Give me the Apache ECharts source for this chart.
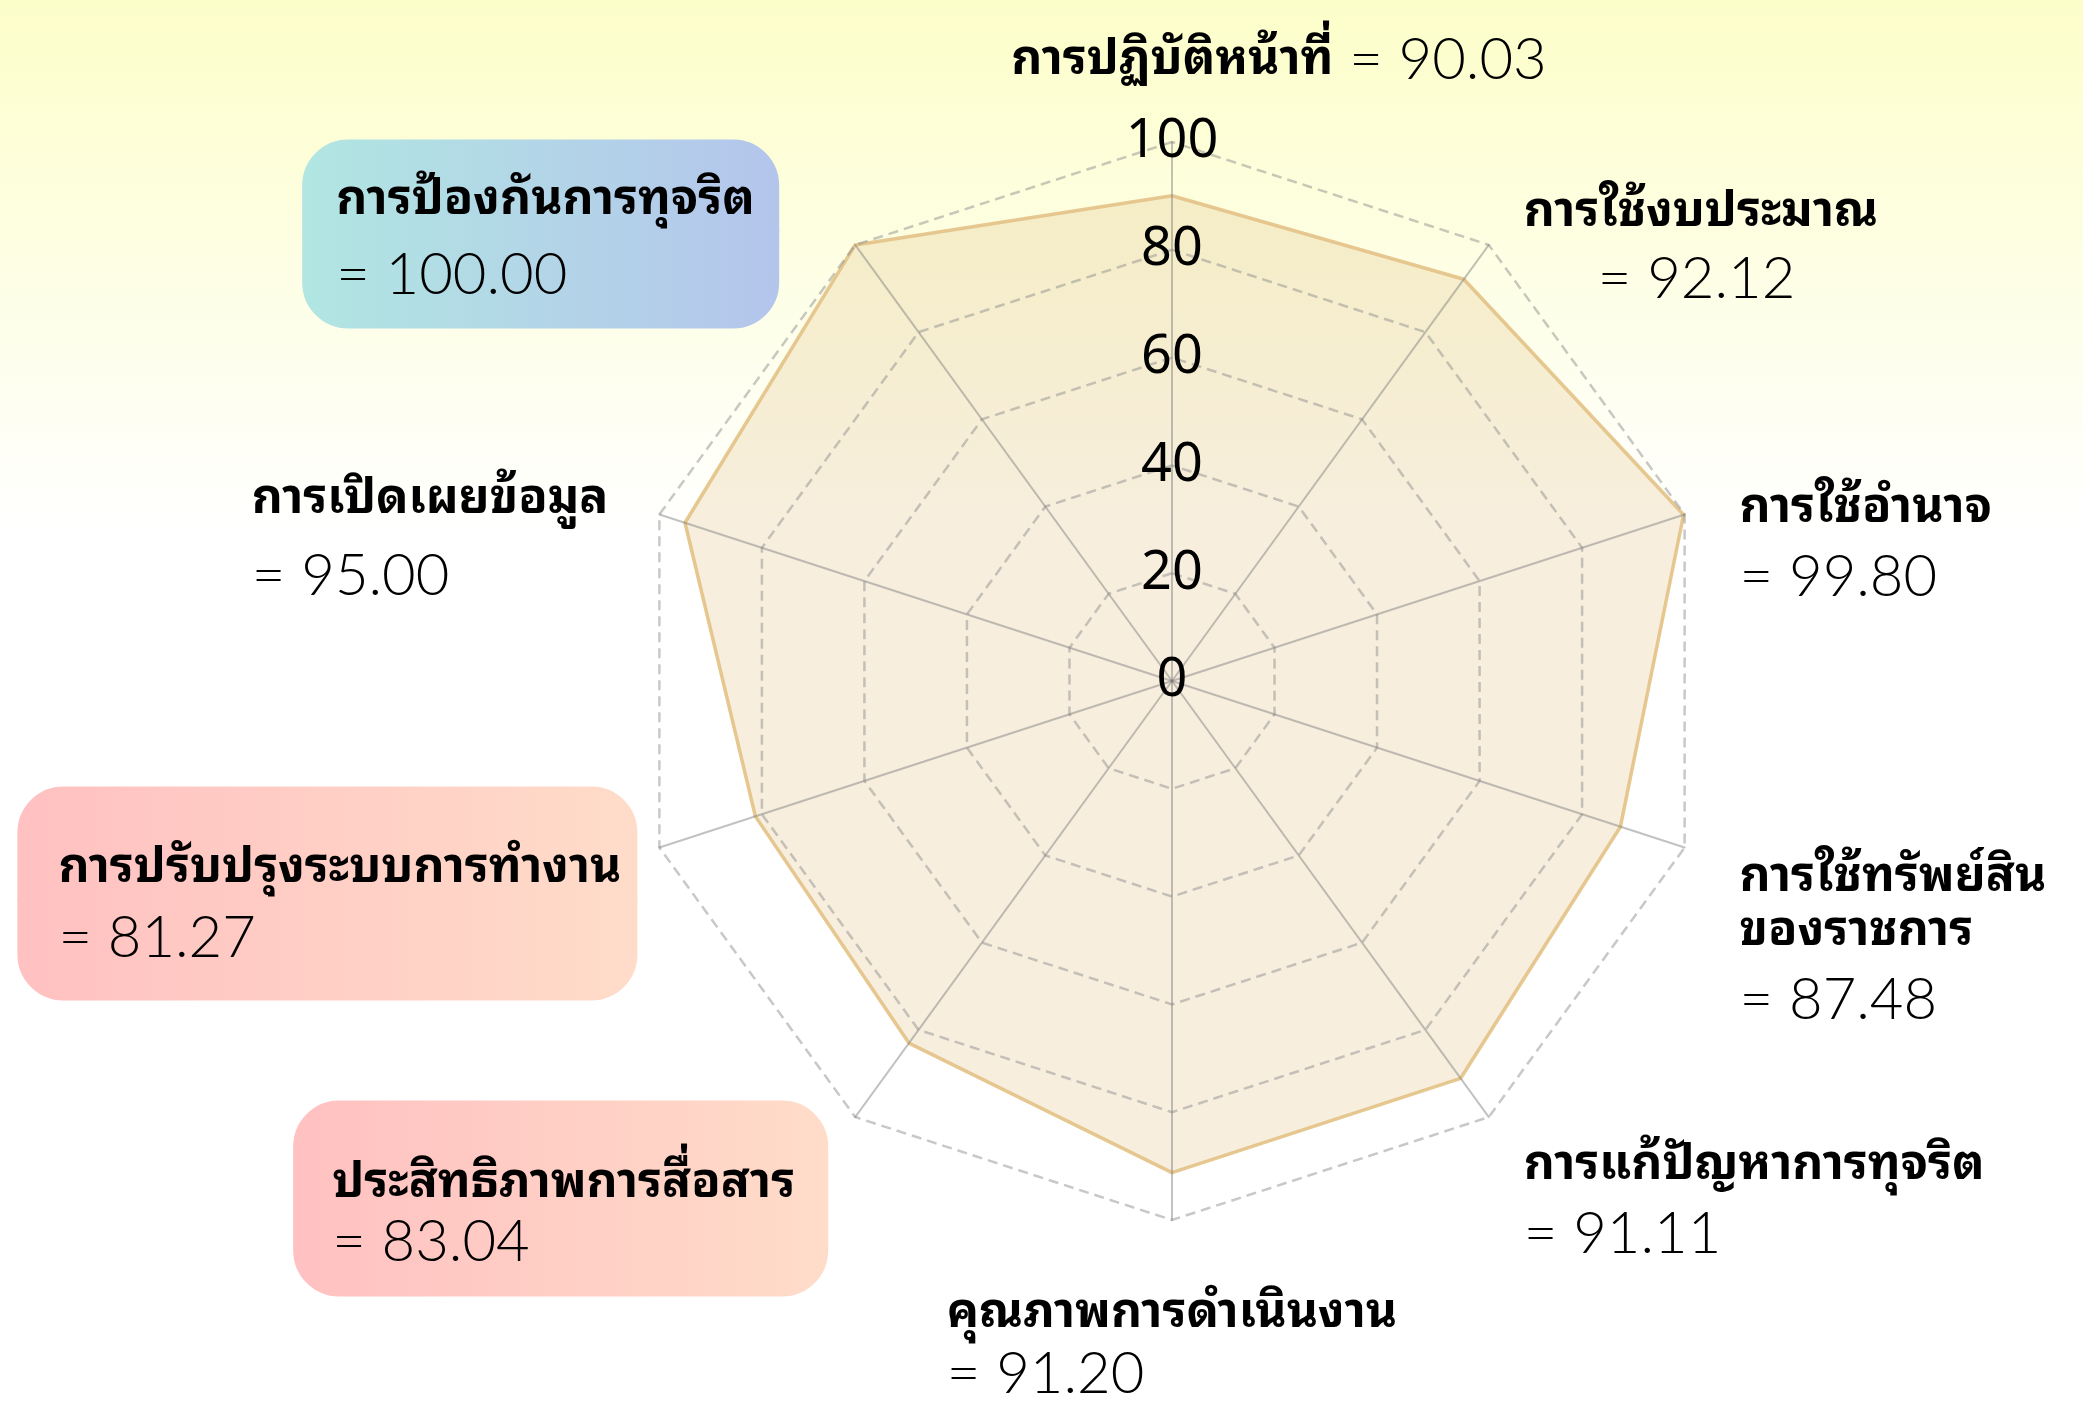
<!DOCTYPE html>
<html>
<head>
<meta charset="utf-8">
<script src="https://cdn.jsdelivr.net/npm/echarts@6/dist/echarts.min.js"></script>
<style>
html,body{margin:0;padding:0;background:#fff;}
#main{width:2083px;height:1401px;}
</style>
</head>
<body>
<div id="main"></div>
<script>
// ---------- data ----------
const categories = [
  'การปฏิบัติหน้าที่',
  'การใช้งบประมาณ',
  'การใช้อำนาจ',
  'การใช้ทรัพย์สิน\nของราชการ',
  'การแก้ปัญหาการทุจริต',
  'คุณภาพการดำเนินงาน',
  'ประสิทธิภาพการสื่อสาร',
  'การปรับปรุงระบบการทำงาน',
  'การเปิดเผยข้อมูล',
  'การป้องกันการทุจริต'
];
const scores = [90.03, 92.12, 99.80, 87.48, 91.11, 91.20, 83.04, 81.27, 95.00, 100.00];
const axisMin = 0;
const axisMax = 100;
const axisSplits = 5; // ticks 0,20,40,60,80,100

// ---------- styles ----------
const THAI = '"Noto Sans Thai Looped", Loma, Garuda, "Noto Sans Thai", Sarabun, "Noto Sans", sans-serif';
const NUM = 'Lato, "Noto Sans", sans-serif';

const labelLayout = [
  {align:'center', pad:[0,0,163,214]},
  {align:'left',   pad:[15,0,0,35], valueStyle:'vi'},
  {align:'left',   pad:[72,0,0,55]},
  {align:'left',   pad:[198,0,0,55]},
  {align:'left',   pad:[181,0,0,35]},
  {align:'center', pad:[255,0,0,0], valueStyle:'vb'},
  {align:'right',  pad:[163,29,0,0], box:'pink', w:457, px:37, top:[60,51], bot:[58,23]},
  {align:'right',  pad:[92,24,0,0],  box:'pink', w:538, px:39, top:[60,50], bot:[80,20]},
  {align:'right',  pad:[70,51,0,0], valueStyle:'vt'},
  {align:'right',  pad:[0,78,22,0],  box:'blue', w:409, px:32, top:[60,29], bot:[90,6]}
];

const grads = {
  blue: {type:'linear', x:0, y:0, x2:1, y2:0, colorStops:[{offset:0,color:'#b1e6e2'},{offset:1,color:'#b4c5ec'}]},
  pink: {type:'linear', x:0, y:0, x2:1, y2:0, colorStops:[{offset:0,color:'#ffc1c1'},{offset:1,color:'#ffdcc9'}]}
};

const nameBase = {fontFamily: THAI, fontWeight:'bold', fontSize:48, color:'#000', align:'left'};
const valBase = {fontFamily: NUM, fontWeight:300, fontSize:58, color:'#000', align:'left'};

const rich = {
  n: Object.assign({lineHeight:54}, nameBase),
  v: Object.assign({lineHeight:84}, valBase),
  vt: Object.assign({lineHeight:100}, valBase),
  vb: Object.assign({lineHeight:68}, valBase),
  vi: Object.assign({lineHeight:80, padding:[0,0,0,74]}, valBase)
};
labelLayout.forEach((L, i) => {
  if (!L.box) return;
  const r = 44;
  rich['b' + i + 'n'] = Object.assign({}, nameBase, {
    width: L.w, height: L.top[0], padding: [L.top[1], L.px, 0, L.px],
    backgroundColor: grads[L.box], borderColor: grads[L.box], borderWidth: 2,
    borderRadius: [r, r, 0, 0]
  });
  rich['b' + i + 'v'] = Object.assign({}, valBase, {
    width: L.w, height: L.bot[0], padding: [0, L.px, L.bot[1], L.px],
    backgroundColor: grads[L.box], borderColor: grads[L.box], borderWidth: 2,
    borderRadius: [0, 0, r, r]
  });
});

function labelText(i) {
  const L = labelLayout[i];
  const val = '= ' + scores[i].toFixed(2);
  if (L.box) {
    return '{b' + i + 'n|' + categories[i] + '}\n{b' + i + 'v|' + val + '}';
  }
  const nameLines = categories[i].split('\n').map(s => '{n|' + s + '}');
  if (i === 0) return nameLines.join('') + '{v| ' + val + '}';
  return nameLines.join('\n') + '\n{' + (L.valueStyle || 'v') + '|' + val + '}';
}

// ECharts places indicators counter-clockwise; the reference runs clockwise.
const order = categories.map((_, k) => (categories.length - k) % categories.length);

const indicators = order.map((i, k) => {
  const L = labelLayout[i];
  const ind = {
    name: categories[i],
    min: axisMin,
    max: axisMax,
    nameGap: 0,
    nameTextStyle: {align: L.align, verticalAlign: 'middle', padding: L.pad, rich: rich, color:'#000'}
  };
  if (k === 0) {
    ind.axisLabel = {show:true, margin:0, align:'center', verticalAlign:'middle',
      fontFamily:'"Noto Sans", sans-serif', fontSize:54, color:'#000'};
  }
  return ind;
});
const seriesValues = order.map(i => scores[i]);

const chart = echarts.init(document.getElementById('main'), null, {renderer:'canvas'});
chart.setOption({
  animation: false,
  backgroundColor: {type:'linear', x:0, y:0, x2:0, y2:1,
    colorStops:[{offset:0,color:'#fcfec9'},{offset:0.38,color:'#ffffff'},{offset:1,color:'#ffffff'}]},
  radar: {
    z: 3,
    center: [1172, 681],
    radius: 539,
    startAngle: 90,
    shape: 'polygon',
    splitNumber: axisSplits,
    axisNameGap: 0,
    indicator: indicators,
    axisName: {show:true, color:'#000', formatter: (name) => labelText(categories.indexOf(name)), rich: rich},
    axisLabel: {show:false},
    axisTick: {show:false},
    axisLine: {show:true, lineStyle:{color:'rgba(120,120,120,0.45)', width:2}},
    splitLine: {show:true, lineStyle:{color:'rgba(140,140,140,0.48)', width:2.5, type:[10,6]}},
    splitArea: {show:false}
  },
  series: [{
    type: 'radar',
    z: 2,
    symbol: 'none',
    lineStyle: {color:'#e6c890', width:3.5},
    areaStyle: {color:'rgba(225,195,135,0.4)'},
    data: [{value: seriesValues, name: 'คะแนน'}]
  }]
});
</script>
</body>
</html>
